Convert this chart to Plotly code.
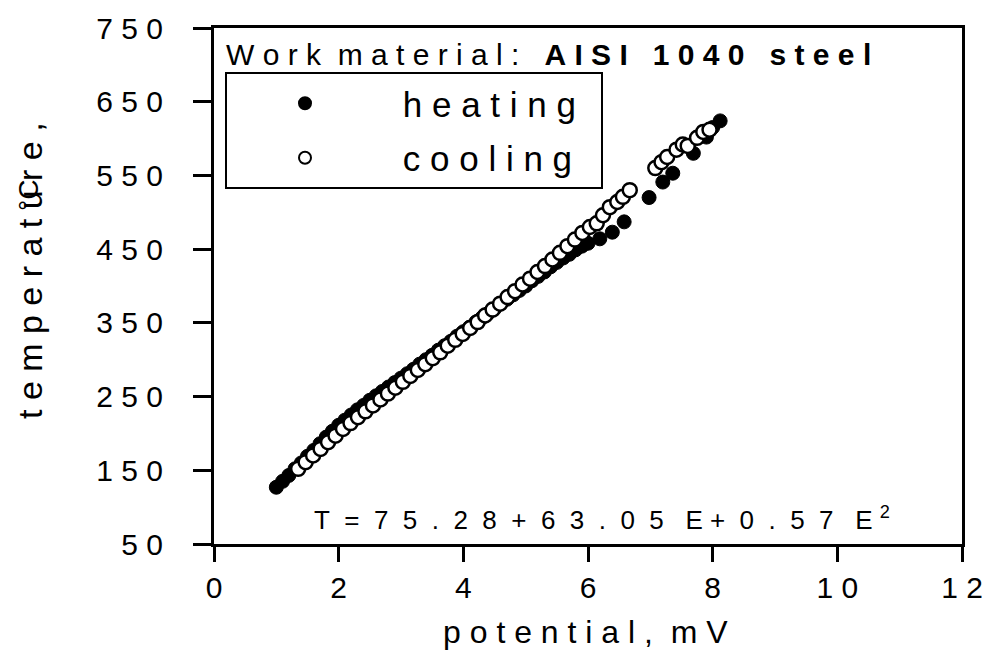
import plotly.graph_objects as go

NB = "\u00a0"

def spaced(s, n=1):
    return (NB * n).join(list(s))

# ---- data ----
heat_E = [1.00, 1.10, 1.20, 1.30, 1.40, 1.50, 1.60, 1.70, 1.80, 1.90,
          2.00, 2.10, 2.20, 2.30, 2.40, 2.50, 2.60, 2.70, 2.80, 2.90,
          3.00, 3.10, 3.20, 3.30, 3.40, 3.50, 3.60, 3.70, 3.80, 3.90,
          4.00, 4.10, 4.20, 4.30, 4.40, 4.50, 4.60, 4.70, 4.80, 4.90,
          5.00, 5.10, 5.20, 5.30, 5.40, 5.50, 5.60, 5.70, 5.80, 5.90,
          6.00, 6.19, 6.39, 6.58, 6.98, 7.20, 7.36, 7.69, 7.90, 8.00, 8.12]
heat_T = [127, 135, 143, 152, 160, 169, 177, 186, 195, 203,
          211, 218, 225, 232, 238, 245, 251, 257, 263, 269,
          275, 281, 287, 294, 300, 306, 313, 319, 325, 332,
          338, 344, 351, 357, 363, 369, 376, 382, 388, 394,
          400, 407, 413, 419, 426, 432, 438, 443, 449, 454,
          458, 464, 473, 487, 520, 541, 553, 580, 602, 615, 624]

cool_E = [1.35, 1.47, 1.59, 1.71, 1.83, 1.95, 2.07, 2.19, 2.31, 2.43,
          2.55, 2.67, 2.79, 2.91, 3.03, 3.15, 3.27, 3.39, 3.51, 3.63,
          3.75, 3.87, 3.99, 4.11, 4.23, 4.35, 4.47, 4.59, 4.71, 4.83,
          4.95, 5.07, 5.19, 5.31, 5.43, 5.55, 5.67, 5.79, 5.91, 6.03,
          6.14, 6.24, 6.35, 6.47, 6.56, 6.67, 7.08, 7.18, 7.27, 7.42,
          7.52, 7.60, 7.75, 7.85, 7.95]
cool_T = [152, 161, 170, 179, 188, 197, 206, 214, 222, 230,
          238, 246, 254, 262, 270, 278, 286, 294, 302, 310,
          319, 327, 335, 343, 351, 360, 368, 376, 385, 393,
          402, 410, 419, 427, 436, 445, 454, 463, 472, 480,
          485, 496, 507, 514, 521, 530, 560, 568, 575, 585,
          592, 590, 601, 609, 612]

x_ticks = [0, 2, 4, 6, 8, 10, 12]
y_ticks = [50, 150, 250, 350, 450, 550, 650, 750]
series_names = ["heating", "cooling"]

FONT = "Liberation Sans"

fig = go.Figure()
fig.add_trace(go.Scatter(
    x=heat_E, y=heat_T, mode="markers",
    name=NB * 8 + spaced(series_names[0]) + NB * 2,
    legendgroup="h",
    marker=dict(symbol="circle", size=14, color="black",
                line=dict(color="black", width=1)),
))
fig.add_trace(go.Scatter(
    x=cool_E, y=cool_T, mode="markers",
    name=NB * 8 + spaced(series_names[1]) + NB * 2,
    legendgroup="c",
    marker=dict(symbol="circle", size=14, color="white",
                line=dict(color="black", width=2.5)),
))

L, R, T, B = 214, 20, 28, 114
W, H = 982, 658
pw, ph = W - L - R, H - T - B

def px(xp):
    return (xp - L) / pw

def py(yp):
    return (H - B - yp) / ph

fig.update_layout(
    width=W, height=H,
    margin=dict(l=L, r=R, t=T, b=B, pad=0, autoexpand=False),
    paper_bgcolor="white", plot_bgcolor="white",
    font=dict(family=FONT, color="black", size=30),
    showlegend=True,
    legend=dict(
        x=px(225), y=py(72), xanchor="left", yanchor="top",
        bgcolor="white", bordercolor="black", borderwidth=2,
        font=dict(family=FONT, size=35, color="black"),
        itemsizing="constant", indentation=58, tracegroupgap=6,
    ),
    xaxis=dict(
        range=[0, 12], tickmode="array", tickvals=x_ticks,
        ticktext=[spaced(str(v)) for v in x_ticks],
        showgrid=False, zeroline=False, automargin=False,
        showline=True, linecolor="black", linewidth=3, mirror=True,
        ticks="outside", ticklen=15, tickwidth=3, tickcolor="black",
        ticklabelstandoff=0, ticklabeloverflow="allow",
        tickfont=dict(family=FONT, size=30, color="black"),
    ),
    yaxis=dict(
        range=[50, 750], tickmode="array", tickvals=y_ticks,
        ticktext=[spaced(str(v)) for v in y_ticks],
        showgrid=False, zeroline=False, automargin=False,
        showline=True, linecolor="black", linewidth=3, mirror=True,
        ticks="outside", ticklen=18, tickwidth=3, tickcolor="black",
        ticklabelstandoff=24, ticklabeloverflow="allow",
        tickfont=dict(family=FONT, size=30, color="black"),
    ),
)

eq_text = ("T" + NB * 2 + spaced("=75.28+63.05", 2) + NB * 3 + "E" + NB +
           spaced("+0.57", 2) + NB * 3 + "E" + NB + "<sup>2</sup>")

annotations = [
    # x axis title
    dict(text=spaced("potential,") + NB * 2 + spaced("mV"),
         xref="paper", yref="paper", x=px(585), y=py(632),
         xanchor="center", yanchor="middle", showarrow=False,
         font=dict(family=FONT, size=32, color="black")),
    # y axis title
    dict(text=spaced("temperature,"),
         xref="paper", yref="paper", x=px(30), y=py(271),
         xanchor="center", yanchor="middle", showarrow=False, textangle=-90,
         font=dict(family=FONT, size=34, color="black")),
    dict(text="°C",
         xref="paper", yref="paper", x=px(28), y=py(196),
         xanchor="center", yanchor="middle", showarrow=False, textangle=-90,
         font=dict(family=FONT, size=28, color="black")),
    # work material
    dict(text=spaced("Work") + NB * 2 + spaced("material:") + NB * 3 +
         "<b>" + spaced("AISI") + NB * 3 + spaced("1040") + NB * 3 + spaced("steel") + "</b>",
         xref="paper", yref="paper", x=px(224), y=py(55),
         xanchor="left", yanchor="middle", showarrow=False,
         font=dict(family=FONT, size=30, color="black")),
    # equation
    dict(text=eq_text,
         xref="paper", yref="paper", x=px(602), y=py(518),
         xanchor="center", yanchor="middle", showarrow=False,
         font=dict(family=FONT, size=26, color="black")),
]
fig.update_layout(annotations=annotations)

fig.write_html("out.html")
